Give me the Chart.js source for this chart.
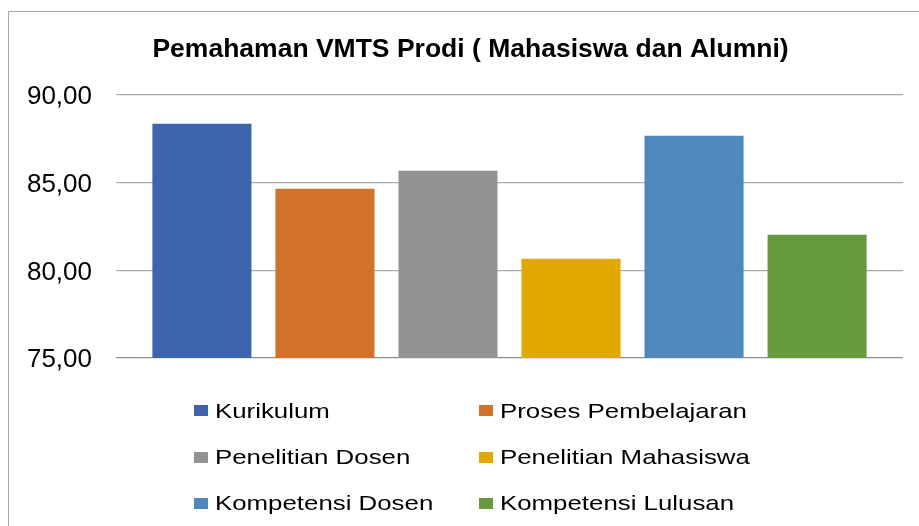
<!DOCTYPE html>
<html>
<head>
<meta charset="utf-8">
<script src="https://cdn.jsdelivr.net/npm/chart.js@4"></script>
<style>
    html, body { margin: 0; padding: 0; background: #ffffff; }
    #wrap { position: relative; width: 919px; height: 526px; overflow: hidden; }
    #frame {
        position: absolute; left: 8px; top: 11px; width: 1000px; height: 600px;
        border-left: 1px solid #a6a6a6; border-top: 1px solid #a6a6a6;
    }
    #chart { position: absolute; left: 0; top: 0; }
    .leg-item { position: absolute; height: 24px; display: flex; align-items: center; }
    .leg-box { width: 14px; height: 11px; margin-right: 7px; flex: none; }
    .leg-text {
        font-family: "Liberation Sans", Arial, sans-serif; font-size: 21px; color: #000;
        white-space: nowrap; transform: scaleX(1.23); transform-origin: left center;
    }
</style>
</head>
<body>
<div id="wrap">
    <div id="frame"></div>
    <canvas id="chart" width="919" height="526"></canvas>
    <div id="legend"></div>
</div>
<script>
"use strict";

// Данные диаграммы
const chartTitle = 'Pemahaman VMTS Prodi ( Mahasiswa dan Alumni)';
const categories = ['Kurikulum', 'Proses Pembelajaran', 'Penelitian Dosen',
    'Penelitian Mahasiswa', 'Kompetensi Dosen', 'Kompetensi Lulusan'];
const values = [88.36, 84.65, 85.68, 80.66, 87.67, 82.03];
const colors = ['#3d64ad', '#d3702c', '#939393', '#e1a900', '#4f89bc', '#659a3f'];
const yTicks = [75, 80, 85, 90];

const FONT = '"Liberation Sans", Arial, sans-serif';

// Каждая категория - отдельный ряд, как в Excel
const datasets = categories.map((name, i) => ({
    label: name,
    data: [values[i]],
    backgroundColor: colors[i],
    borderWidth: 0,
    categoryPercentage: 0.938,
    barPercentage: 0.805
}));

// Заголовок в Excel центрирован по рамке, а не по всей ширине
const titleShift = {
    id: 'titleShift',
    afterLayout(chart) {
        if (chart.titleBlock) chart.titleBlock.left += 30;
    }
};

const ctx = document.getElementById('chart').getContext('2d');

new Chart(ctx, {
    type: 'bar',
    data: {
        labels: [''],
        datasets: datasets
    },
    plugins: [titleShift],
    options: {
        responsive: false,
        animation: false,
        layout: {
            padding: { left: 8, right: 16, top: 11, bottom: 168 }
        },
        plugins: {
            legend: { display: false },
            tooltip: { enabled: false },
            title: {
                display: true,
                text: chartTitle,
                color: '#000000',
                font: { family: FONT, size: 26.5, weight: 'bold', lineHeight: 1.2 },
                padding: { top: 22.5, bottom: 29.7 }
            }
        },
        scales: {
            x: { display: false },
            y: {
                min: yTicks[0],
                max: yTicks[yTicks.length - 1],
                afterFit: function(scale) { scale.width = 108; },
                afterBuildTicks: function(scale) {
                    scale.ticks = yTicks.map(v => ({ value: v }));
                },
                border: { display: false },
                grid: {
                    drawTicks: false,
                    lineWidth: 1.3,
                    color: function(c) {
                        return c.tick && c.tick.value === yTicks[0] ? '#8c8c8c' : '#ababab';
                    }
                },
                ticks: {
                    padding: 24,
                    labelOffset: 2,
                    color: '#000000',
                    font: { family: FONT, size: 26 },
                    callback: function(v) { return Number(v).toFixed(2).replace('.', ','); }
                }
            }
        }
    }
});

// Легенда в две колонки
const legendCols = [194, 479];
const legendRows = [410.5, 457, 503];
const legend = document.getElementById('legend');
categories.forEach((name, i) => {
    const item = document.createElement('div');
    item.className = 'leg-item';
    item.style.left = legendCols[i % 2] + 'px';
    item.style.top = (legendRows[Math.floor(i / 2)] - 12) + 'px';
    item.innerHTML = '<span class="leg-box" style="background:' + colors[i] + '"></span>' +
        '<span class="leg-text">' + name + '</span>';
    legend.appendChild(item);
});
</script>
</body>
</html>
